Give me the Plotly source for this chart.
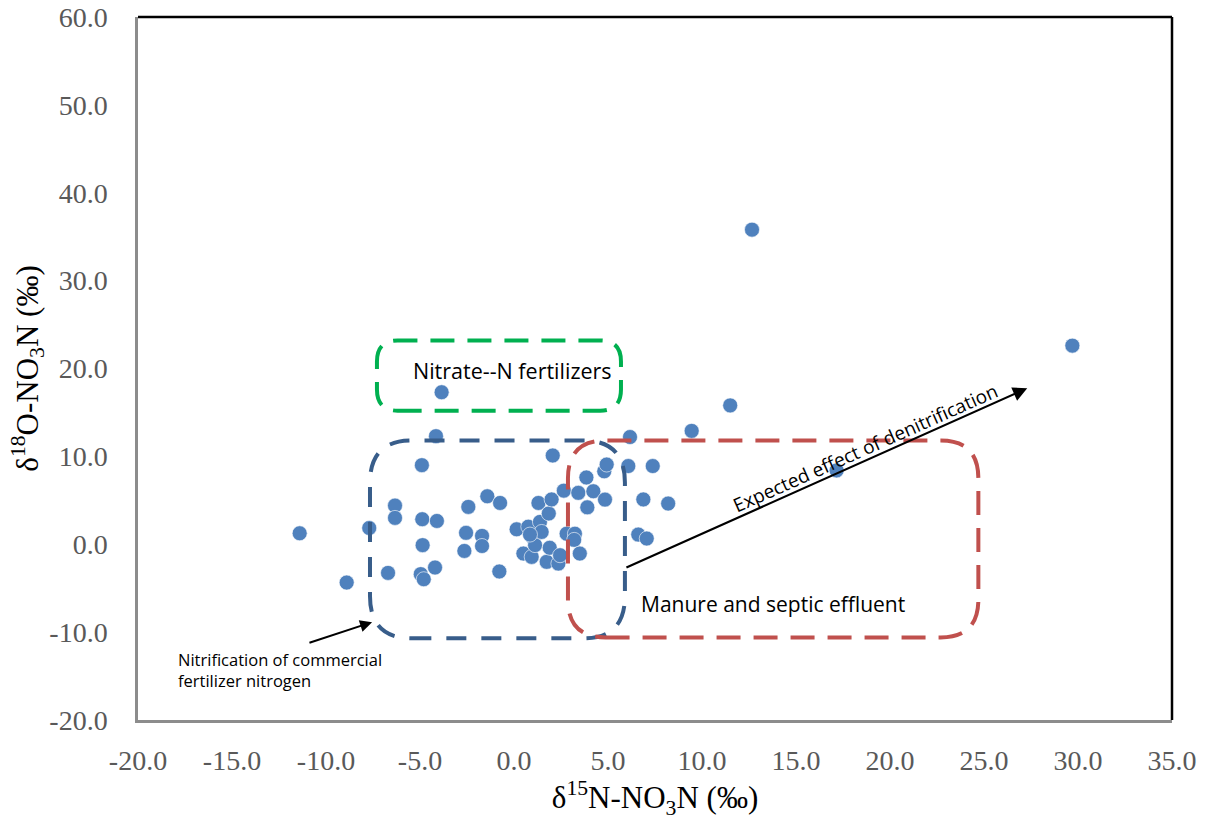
import plotly.graph_objects as go

# ---- data ----
d15N = [-11.4, -8.9, -7.7, -6.7, -6.33, -6.33, -4.9, -4.88, -4.86, -4.96, -4.8, -4.2,
        -4.15, -4.1, -3.85, -2.43, -2.55, -2.64, -1.7, -1.7, -1.42, -0.74, -0.78, 0.14,
        0.76, 0.5, 0.94, 1.03, 1.12, 1.3, 1.38, 1.47, 1.74, 1.85, 1.9, 2.0, 2.06, 2.36,
        2.45, 2.65, 2.8, 3.24, 3.2, 3.42, 3.5, 3.85, 3.9, 4.22, 4.8, 4.93, 4.84, 6.08,
        6.17, 6.61, 7.06, 6.88, 7.38, 8.2, 9.45, 11.5, 12.66, 17.16, 29.7, 0.85]
d18O = [1.25, -4.36, 1.85, -3.26, 4.4, 3.0, 9.0, 2.85, -0.1, -3.4, -3.98, -2.65,
        12.3, 2.65, 17.3, 4.25, 1.3, -0.76, 0.95, -0.2, 5.46, 4.7, -3.1, 1.7,
        2.0, -1.06, -1.44, 0.65, -0.1, 4.7, 2.54, 1.4, -2.0, 3.5, -0.4, 5.1, 10.1, -2.2,
        -1.25, 6.1, 1.2, 1.2, 0.5, 5.85, -1.06, 7.6, 4.2, 6.03, 8.3, 9.07, 5.08, 8.9,
        12.2, 1.1, 0.65, 5.1, 8.9, 4.63, 12.9, 15.8, 35.8, 8.4, 22.6, 1.1]

x_ticks = [-20, -15, -10, -5, 0, 5, 10, 15, 20, 25, 30, 35]
y_ticks = [-20, -10, 0, 10, 20, 30, 40, 50, 60]
x_labels = [f"{v:.1f}" for v in x_ticks]
y_labels = [f"{v:.1f}" for v in y_ticks]

# source-region boxes: [x0, x1, y0, y1, rx, ry]
box_fert = [-7.29, 5.69, 15.2, 23.2, 1.1, 2.4]
box_nitr = [-7.66, 5.9, -10.7, 11.8, 2.2, 4.8]
box_manure = [2.87, 24.7, -10.6, 11.8, 2.0, 4.3]


def rounded_rect(b):
    x0, x1, y0, y1, rx, ry = b
    return (f"M {x0+rx},{y0} L {x1-rx},{y0} Q {x1},{y0} {x1},{y0+ry} "
            f"L {x1},{y1-ry} Q {x1},{y1} {x1-rx},{y1} "
            f"L {x0+rx},{y1} Q {x0},{y1} {x0},{y1-ry} "
            f"L {x0},{y0+ry} Q {x0},{y0} {x0+rx},{y0} Z")


fig = go.Figure()
fig.add_trace(go.Scatter(
    x=d15N, y=d18O, mode="markers",
    marker=dict(size=15, color="#4F81BD",
                line=dict(width=1, color="rgba(255,255,255,0.6)")),
    showlegend=False, hoverinfo="x+y"))

shapes = [
    dict(type="path", path=rounded_rect(box_fert), xref="x", yref="y",
         line=dict(color="#00B050", width=4, dash="24px,13px"), layer="above"),
    dict(type="path", path=rounded_rect(box_nitr), xref="x", yref="y",
         line=dict(color="#385D8A", width=4, dash="20px,15px"), layer="above"),
    dict(type="path", path=rounded_rect(box_manure), xref="x", yref="y",
         line=dict(color="#C0504D", width=4, dash="24px,13px"), layer="above"),
    # top and right frame lines
    dict(type="line", xref="paper", yref="paper", x0=0, x1=1, y0=1, y1=1,
         line=dict(color="black", width=2.5)),
    dict(type="line", xref="paper", yref="paper", x0=1, x1=1, y0=0, y1=1,
         line=dict(color="black", width=2.5)),
]

annos = [
    # denitrification arrow
    dict(x=27.3, y=17.75, ax=5.9, ay=-2.73, xref="x", yref="y", axref="x", ayref="y",
         showarrow=True, arrowhead=2, arrowsize=1.3, arrowwidth=2.2, arrowcolor="black",
         text=""),
    dict(x=18.7, y=10.9, xref="x", yref="y", text="Expected effect of denitrification",
         showarrow=False, textangle=-24,
         font=dict(family="Open Sans", size=19, color="black")),
    # nitrification arrow
    dict(x=-7.55, y=-8.87, ax=-10.96, ay=-11.26, xref="x", yref="y", axref="x", ayref="y",
         showarrow=True, arrowhead=2, arrowsize=1.2, arrowwidth=2, arrowcolor="black",
         text=""),
    dict(x=-18.0, y=-14.3, xref="x", yref="y", xanchor="left", align="left",
         text="Nitrification of commercial<br>fertilizer nitrogen", showarrow=False,
         font=dict(family="Open Sans", size=16.5, color="black")),
    dict(x=-0.1, y=19.8, xref="x", yref="y", text="Nitrate--N fertilizers",
         showarrow=False, font=dict(family="Open Sans", size=21.5, color="black")),
    dict(x=13.8, y=-6.8, xref="x", yref="y", text="Manure and septic effluent",
         showarrow=False, font=dict(family="Open Sans", size=21, color="black")),
]

axis_common = dict(
    showgrid=False, zeroline=False, showline=True, linecolor="#8C8C8C", linewidth=2.5,
    ticks="outside", tickcolor="rgba(0,0,0,0)", automargin=False,
    tickfont=dict(family="Liberation Serif", size=28, color="#595959"),
)

fig.update_layout(
    width=1209, height=820,
    margin=dict(l=138, r=37, t=17, b=100),
    plot_bgcolor="white", paper_bgcolor="white",
    xaxis=dict(range=[x_ticks[0], x_ticks[-1]], tickvals=x_ticks, ticktext=x_labels,
               ticklen=14,
               title=dict(text="δ<sup>15</sup>N-NO<sub>3</sub>N (‰)", standoff=4,
                          font=dict(family="Liberation Serif", size=31, color="black")),
               **axis_common),
    yaxis=dict(range=[y_ticks[0], y_ticks[-1]], tickvals=y_ticks, ticktext=y_labels,
               ticklen=22,
               title=dict(text="δ<sup>18</sup>O-NO<sub>3</sub>N (‰)", standoff=2,
                          font=dict(family="Liberation Serif", size=31, color="black")),
               **axis_common),
    shapes=shapes, annotations=annos,
)

fig.write_html("out.html", config={"displayModeBar": False},
               post_script="document.body.style.margin='0px';document.body.style.overflow='hidden';")
